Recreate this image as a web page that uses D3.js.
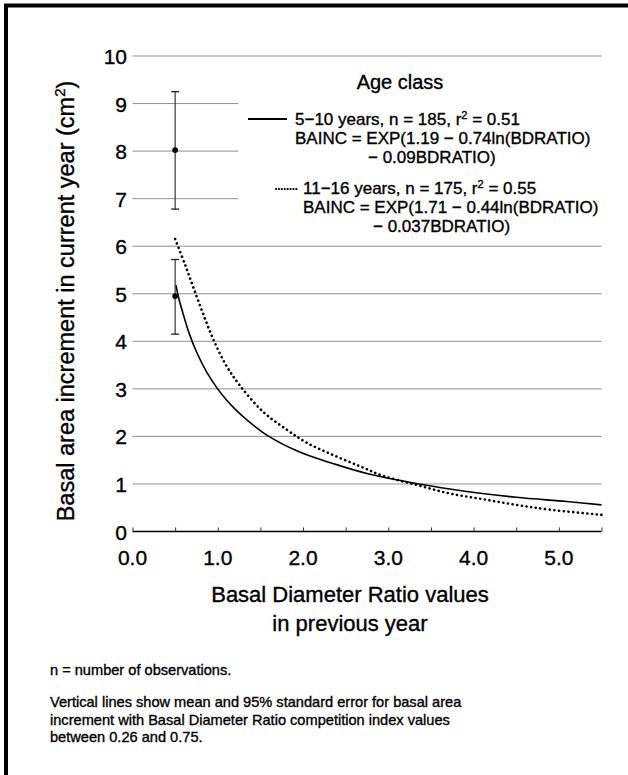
<!DOCTYPE html>
<html><head><meta charset="utf-8">
<script src="https://cdnjs.cloudflare.com/ajax/libs/d3/7.8.5/d3.min.js"></script>
<style>body{margin:0;background:#fff}svg{display:block;font-family:"Liberation Sans",Arial,Helvetica,sans-serif}
svg text{stroke:#000;stroke-width:0.35px;fill:#000}</style>
</head><body><svg id="c" width="628" height="775"></svg>
<script>
// --- data ---
const yTicks = [0,1,2,3,4,5,6,7,8,9,10];
const xTickLabels = ["0.0","1.0","2.0","3.0","4.0","5.0"];
const xTickValues = [0,1,2,3,4,5];
const xMinorTicks = [0,0.5,1,1.5,2,2.5,3,3.5,4,4.5,5,5.5];
// solid: 5-10 years
const solidX = [0.51,0.54,0.60,0.67,0.75,0.87,0.99,1.10,1.20,1.34,1.59,1.96,2.35,2.75,3.33,3.92,4.50,5.09,5.50];
const solidY = [5.18,4.92,4.54,4.14,3.78,3.35,3.02,2.77,2.58,2.35,2.01,1.67,1.43,1.22,1.01,0.84,0.72,0.63,0.56];
// dotted: 11-16 years
const dotX = [0.50,0.615,0.71,0.83,0.95,1.10,1.26,1.53,1.81,2.04,2.35,2.67,2.94,3.33,3.72,4.11,4.50,4.89,5.50];
const dotY = [6.15,5.62,5.15,4.57,4.03,3.49,3.07,2.52,2.14,1.87,1.61,1.37,1.17,0.98,0.80,0.68,0.56,0.46,0.35];
// error bars (mean and 95% SE) at BDRATIO 0.5
const errX = [0.5, 0.5];
const errMean = [8.02, 4.95];
const errLow = [6.78, 4.15];
const errHigh = [9.25, 5.72];
// gridlines that are interrupted by the legend
const gridStopsAtLegend = [7,8,9];

const svg = d3.select("#c");
const x = d3.scaleLinear().domain([0,5.5]).range([132.5,601.5]);
const y = d3.scaleLinear().domain([0,10]).range([531.5,56]);

// frame
svg.append("path").attr("d","M6,775 L6,5.5 L628,5.5").attr("fill","none").attr("stroke","#000").attr("stroke-width",4);

// gridlines
svg.append("g").selectAll("line").data(yTicks.filter(d=>d>0)).join("line")
  .attr("x1",x(0)).attr("x2",d=>gridStopsAtLegend.includes(d)?x(1.24):x(5.5))
  .attr("y1",d=>y(d)).attr("y2",d=>y(d))
  .attr("stroke","#8f8f8f").attr("stroke-width",1);

// x axis
const xAxis = d3.axisBottom(x).tickValues(xMinorTicks).tickSize(-4).tickFormat("");
const gx = svg.append("g").attr("transform",`translate(0,${y(0)})`).call(xAxis);
gx.select(".domain").attr("stroke","#000").attr("stroke-width",1.6).attr("d",`M${x(0)},0H${x(5.5)}`);
gx.selectAll(".tick line").attr("stroke","#333");
svg.append("g").selectAll("text").data(xTickValues).join("text")
  .attr("x",d=>x(d)).attr("y",565).attr("text-anchor","middle")
  .attr("font-size",21).text((d,i)=>xTickLabels[i]);

// y axis labels
const yAxis = d3.axisLeft(y).tickValues(yTicks).tickSize(0).tickPadding(0).tickFormat(d3.format("d"));
const gy = svg.append("g").attr("transform","translate(127,0)").call(yAxis);
gy.select(".domain").remove();
gy.selectAll("text").attr("font-size",21).attr("font-family","Liberation Sans, Arial, sans-serif").attr("dy","0.36em");

// axis titles
const yt = svg.append("text").attr("transform","translate(74,301) rotate(-90)").attr("text-anchor","middle").attr("font-size",23.5);
yt.append("tspan").text("Basal area increment in current year (cm");
yt.append("tspan").attr("font-size",15).attr("dy",-9).text("2");
yt.append("tspan").attr("dy",9).text(")");
svg.append("text").attr("x",350).attr("y",602).attr("text-anchor","middle").attr("font-size",22).text("Basal Diameter Ratio values");
svg.append("text").attr("x",350).attr("y",631).attr("text-anchor","middle").attr("font-size",22).text("in previous year");

// curves
const line = d3.line().x(d=>x(d[0])).y(d=>y(d[1])).curve(d3.curveCatmullRom.alpha(0.5));
svg.append("path").datum(solidX.map((v,i)=>[v,solidY[i]])).attr("d",line)
  .attr("fill","none").attr("stroke","#000").attr("stroke-width",1.6);
svg.append("path").datum(dotX.map((v,i)=>[v,dotY[i]])).attr("d",line)
  .attr("fill","none").attr("stroke","#000").attr("stroke-width",2.6)
  .attr("stroke-dasharray","0.1 4.6").attr("stroke-linecap","round");

// error bars
const eb = svg.append("g").selectAll("g").data(errX.map((v,i)=>i)).join("g");
eb.append("line").attr("x1",i=>x(errX[i])).attr("x2",i=>x(errX[i]))
  .attr("y1",i=>y(errLow[i])).attr("y2",i=>y(errHigh[i])).attr("stroke","#222").attr("stroke-width",1.1);
eb.append("line").attr("x1",i=>x(errX[i])-4).attr("x2",i=>x(errX[i])+4)
  .attr("y1",i=>y(errHigh[i])).attr("y2",i=>y(errHigh[i])).attr("stroke","#222").attr("stroke-width",1.3);
eb.append("line").attr("x1",i=>x(errX[i])-4).attr("x2",i=>x(errX[i])+4)
  .attr("y1",i=>y(errLow[i])).attr("y2",i=>y(errLow[i])).attr("stroke","#222").attr("stroke-width",1.3);
eb.append("circle").attr("cx",i=>x(errX[i])).attr("cy",i=>y(errMean[i])).attr("r",2.8).attr("fill","#000");

// legend
const lg = svg.append("g");
lg.append("text").attr("x",400).attr("y",89).attr("text-anchor","middle").attr("font-size",20).text("Age class");
lg.append("line").attr("x1",248).attr("x2",287).attr("y1",119).attr("y2",119).attr("stroke","#000").attr("stroke-width",2.2);
const t1 = lg.append("text").attr("x",295).attr("y",125).attr("font-size",17);
t1.append("tspan").text("5\u221210 years, n = 185, r");
t1.append("tspan").attr("font-size",11).attr("dy",-6).text("2");
t1.append("tspan").attr("dy",6).text(" = 0.51");
lg.append("text").attr("x",295).attr("y",144).attr("font-size",17).text("BAINC = EXP(1.19 \u2212 0.74ln(BDRATIO)");
lg.append("text").attr("x",368).attr("y",163).attr("font-size",17).text("\u2212 0.09BDRATIO)");
lg.append("line").attr("x1",276).attr("x2",298).attr("y1",189).attr("y2",189).attr("stroke","#000").attr("stroke-width",2.2)
  .attr("stroke-dasharray","0.1 2.8").attr("stroke-linecap","round");
const t2 = lg.append("text").attr("x",303).attr("y",194).attr("font-size",17);
t2.append("tspan").text("11\u221216 years, n = 175, r");
t2.append("tspan").attr("font-size",11).attr("dy",-6).text("2");
t2.append("tspan").attr("dy",6).text(" = 0.55");
lg.append("text").attr("x",303).attr("y",213).attr("font-size",17).text("BAINC = EXP(1.71 \u2212 0.44ln(BDRATIO)");
lg.append("text").attr("x",373).attr("y",232).attr("font-size",17).text("\u2212 0.037BDRATIO)");

// notes
const notes = ["n = number of observations.",
  "Vertical lines show mean and 95% standard error for basal area",
  "increment with Basal Diameter Ratio competition index values",
  "between 0.26 and 0.75."];
const noteY = [675, 707, 724.5, 742];
svg.append("g").selectAll("text").data(notes).join("text")
  .attr("x",50).attr("y",(d,i)=>noteY[i]).attr("font-size",14.6).text(d=>d);
</script></body></html>
